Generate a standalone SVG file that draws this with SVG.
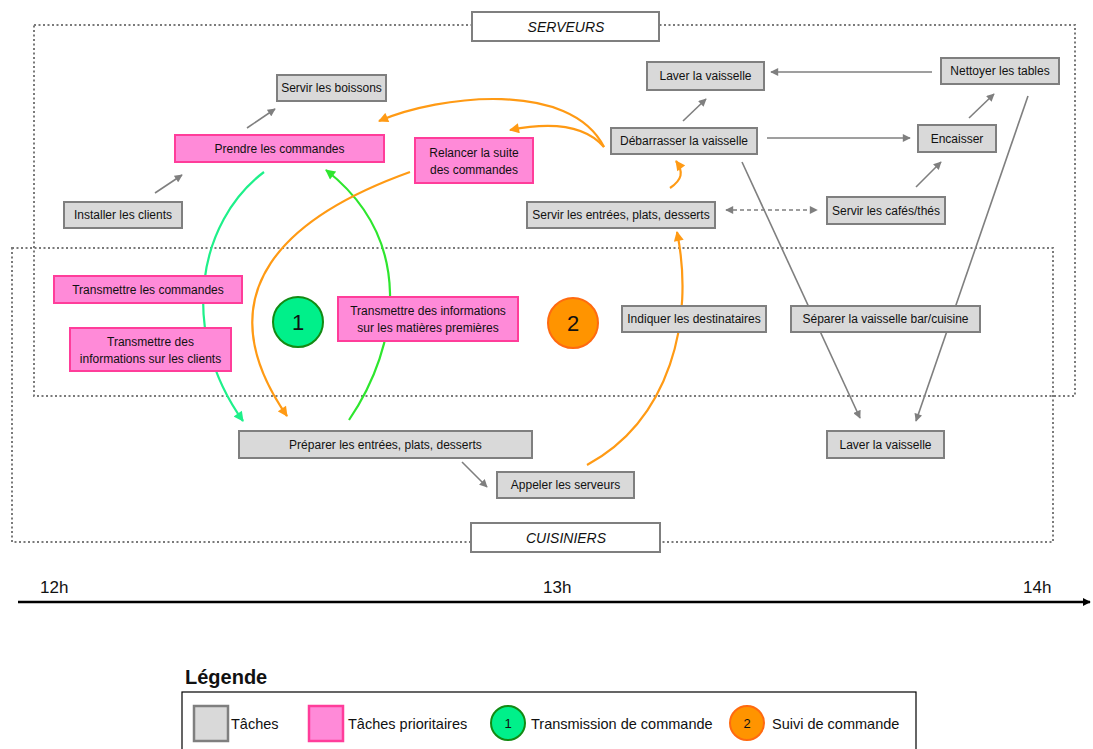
<svg xmlns="http://www.w3.org/2000/svg" width="1093" height="749" viewBox="0 0 1093 749">
<style>
text{font-family:"Liberation Sans",Arial,sans-serif;fill:#111;}
.t{font-size:12px;text-anchor:middle;}
.task rect{fill:#d9d9d9;stroke:#7f7f7f;stroke-width:2;}
.prio rect{fill:#ff8ad8;stroke:#ff3d9a;stroke-width:2;}
.zone{fill:none;stroke:#7a7a7a;stroke-width:2;stroke-dasharray:2 2.5;}
.lbl rect{fill:#fff;stroke:#7f7f7f;stroke-width:2;}
.lbl text{font-size:14px;font-style:italic;text-anchor:middle;}
.g{fill:none;stroke:#7f7f7f;stroke-width:1.6;}
.o{fill:none;stroke:#ff9a14;stroke-width:2.2;}
.mint{fill:none;stroke:#1ef08a;stroke-width:2.2;}
.grn{fill:none;stroke:#2ee62e;stroke-width:2.2;}
.time{font-size:17px;}
.leg{font-size:14.5px;}
</style>
<defs>
<marker id="agl" viewBox="0 0 10 10" refX="9" refY="5" markerWidth="9" markerHeight="8" orient="auto" markerUnits="userSpaceOnUse"><path d="M0,0 L10,5 L0,10 z" fill="#7f7f7f"/></marker>
<marker id="agls" viewBox="0 0 10 10" refX="1" refY="5" markerWidth="9" markerHeight="8" orient="auto" markerUnits="userSpaceOnUse"><path d="M10,0 L0,5 L10,10 z" fill="#7f7f7f"/></marker>
<marker id="ao" viewBox="0 0 10 10" refX="9" refY="5" markerWidth="11" markerHeight="10" orient="auto" markerUnits="userSpaceOnUse"><path d="M0,0 L10,5 L0,10 z" fill="#ff9a14"/></marker>
<marker id="am" viewBox="0 0 10 10" refX="9" refY="5" markerWidth="11" markerHeight="10" orient="auto" markerUnits="userSpaceOnUse"><path d="M0,0 L10,5 L0,10 z" fill="#1ef08a"/></marker>
<marker id="an" viewBox="0 0 10 10" refX="9" refY="5" markerWidth="11" markerHeight="10" orient="auto" markerUnits="userSpaceOnUse"><path d="M0,0 L10,5 L0,10 z" fill="#2ee62e"/></marker>
<marker id="ak" viewBox="0 0 10 10" refX="9" refY="5" markerWidth="8" markerHeight="9" orient="auto" markerUnits="userSpaceOnUse"><path d="M0,0 L10,5 L0,10 z" fill="#000"/></marker>
</defs>
<rect width="1093" height="749" fill="#fff"/>

<g id="zones">
<rect class="zone" x="34" y="25" width="1041" height="371"/>
<rect class="zone" x="12" y="248" width="1041" height="294"/>
</g>
<g id="serveurs-label" class="lbl"><rect x="472" y="12" width="187" height="29"/><text x="566" y="32">SERVEURS</text></g>
<g id="cuisiniers-label" class="lbl"><rect x="471" y="523" width="189" height="29"/><text x="566" y="543">CUISINIERS</text></g>

<g id="connectors">
<line class="g" x1="155" y1="193" x2="182" y2="175" marker-end="url(#agl)"/>
<line class="g" x1="247" y1="128" x2="275" y2="109" marker-end="url(#agl)"/>
<line class="g" x1="683" y1="121" x2="706" y2="99" marker-end="url(#agl)"/>
<line class="g" x1="932" y1="72" x2="771" y2="72" marker-end="url(#agl)"/>
<line class="g" x1="767" y1="138" x2="910" y2="138" marker-end="url(#agl)"/>
<line class="g" x1="916" y1="187" x2="941" y2="162" marker-end="url(#agl)"/>
<line class="g" x1="969" y1="118" x2="994" y2="94" marker-end="url(#agl)"/>
<line class="g" x1="726" y1="210" x2="817" y2="210" stroke-dasharray="4 3" marker-start="url(#agls)" marker-end="url(#agl)"/>
<line class="g" x1="742" y1="162" x2="860" y2="418" marker-end="url(#agl)"/>
<line class="g" x1="1028" y1="96" x2="916" y2="421" marker-end="url(#agl)"/>
<line class="g" x1="462" y1="462" x2="487" y2="487" marker-end="url(#agl)"/>
<path class="mint" d="M264,172 C198,222 178,330 243,421" marker-end="url(#am)"/>
<path class="grn" d="M349,420 C400,345 415,240 326,170" marker-end="url(#an)"/>
<path class="o" d="M410,172 C290,215 200,290 287,416" marker-end="url(#ao)"/>
<path class="o" d="M604,147 C570,80 440,95 379,121" marker-end="url(#ao)"/>
<path class="o" d="M604,147 C585,125 550,122 510,130" marker-end="url(#ao)"/>
<path class="o" d="M670,188 C682,180 684,172 676,161" marker-end="url(#ao)"/>
<path class="o" d="M587,465 C670,420 695,320 677,232" marker-end="url(#ao)"/>
</g>

<g id="n-servir-boissons" class="task"><rect x="277" y="75" width="109" height="26"/><text class="t" x="331.5" y="92">Servir les boissons</text></g>
<g id="n-prendre" class="prio"><rect x="175" y="135" width="209" height="27"/><text class="t" x="279.5" y="153">Prendre les commandes</text></g>
<g id="n-installer" class="task"><rect x="64" y="202" width="118" height="26"/><text class="t" x="123" y="219">Installer les clients</text></g>
<g id="n-laver-top" class="task"><rect x="647" y="62" width="117" height="28"/><text class="t" x="705.5" y="80">Laver la vaisselle</text></g>
<g id="n-debarrasser" class="task"><rect x="611" y="128" width="146" height="26"/><text class="t" x="684" y="145">Débarrasser la vaisselle</text></g>
<g id="n-relancer" class="prio"><rect x="415" y="138" width="118" height="45"/><text class="t" x="474" y="157">Relancer la suite</text><text class="t" x="474" y="174">des commandes</text></g>
<g id="n-servir-entrees" class="task"><rect x="527" y="202" width="188" height="26"/><text class="t" x="621" y="219">Servir les entrées, plats, desserts</text></g>
<g id="n-nettoyer" class="task"><rect x="941" y="58" width="118" height="26"/><text class="t" x="1000" y="75">Nettoyer les tables</text></g>
<g id="n-encaisser" class="task"><rect x="918" y="125" width="78" height="27"/><text class="t" x="957" y="143">Encaisser</text></g>
<g id="n-cafes" class="task"><rect x="827" y="197" width="118" height="27"/><text class="t" x="886" y="215">Servir les cafés/thés</text></g>
<g id="n-transmettre-cmd" class="prio"><rect x="54" y="276" width="188" height="27"/><text class="t" x="148" y="294">Transmettre les commandes</text></g>
<g id="n-transmettre-clients" class="prio"><rect x="70" y="328" width="161" height="43"/><text class="t" x="150.5" y="346">Transmettre des</text><text class="t" x="150.5" y="363">informations sur les clients</text></g>
<g id="n-circle1"><circle cx="298" cy="322" r="25" fill="#00f08a" stroke="#138a13" stroke-width="2"/><text x="298" y="330" font-size="22" text-anchor="middle">1</text></g>
<g id="n-transmettre-mp" class="prio"><rect x="338" y="297" width="180" height="44"/><text class="t" x="428" y="315">Transmettre des informations</text><text class="t" x="428" y="332">sur les matières premières</text></g>
<g id="n-circle2"><circle cx="573" cy="323" r="25" fill="#ff9400" stroke="#ff6a10" stroke-width="2"/><text x="573" y="331" font-size="22" text-anchor="middle">2</text></g>
<g id="n-indiquer" class="task"><rect x="622" y="306" width="144" height="26"/><text class="t" x="694" y="323">Indiquer les destinataires</text></g>
<g id="n-separer" class="task"><rect x="791" y="306" width="189" height="26"/><text class="t" x="885.5" y="323">Séparer la vaisselle bar/cuisine</text></g>
<g id="n-laver-bottom" class="task"><rect x="827" y="431" width="117" height="27"/><text class="t" x="885.5" y="449">Laver la vaisselle</text></g>
<g id="n-preparer" class="task"><rect x="239" y="431" width="293" height="27"/><text class="t" x="385.5" y="449">Préparer les entrées, plats, desserts</text></g>
<g id="n-appeler" class="task"><rect x="497" y="472" width="137" height="26"/><text class="t" x="565.5" y="489">Appeler les serveurs</text></g>

<g id="timeline">
<line x1="18" y1="602" x2="1090" y2="602" stroke="#000" stroke-width="2.5" marker-end="url(#ak)"/>
<text class="time" x="40" y="593">12h</text>
<text class="time" x="543" y="593">13h</text>
<text class="time" x="1023" y="593">14h</text>
</g>

<g id="legend">
<text x="185" y="684" font-size="20" font-weight="bold">Légende</text>
<rect x="182" y="692" width="734" height="70" fill="none" stroke="#000" stroke-width="1.2"/>
<rect x="194" y="706" width="34" height="35" fill="#d9d9d9" stroke="#7f7f7f" stroke-width="2.5"/>
<text class="leg" x="231" y="729">Tâches</text>
<rect x="309" y="706" width="34" height="35" fill="#ff8ad8" stroke="#ff3d9a" stroke-width="2.5"/>
<text class="leg" x="348" y="729">Tâches prioritaires</text>
<circle cx="508" cy="723" r="17" fill="#00f08a" stroke="#138a13" stroke-width="2"/>
<text x="508" y="728" font-size="13" text-anchor="middle">1</text>
<text class="leg" x="531" y="729">Transmission de commande</text>
<circle cx="747" cy="723" r="17" fill="#ff9400" stroke="#ff6a10" stroke-width="2"/>
<text x="747" y="728" font-size="13" text-anchor="middle">2</text>
<text class="leg" x="772" y="729">Suivi de commande</text>
</g>
</svg>
